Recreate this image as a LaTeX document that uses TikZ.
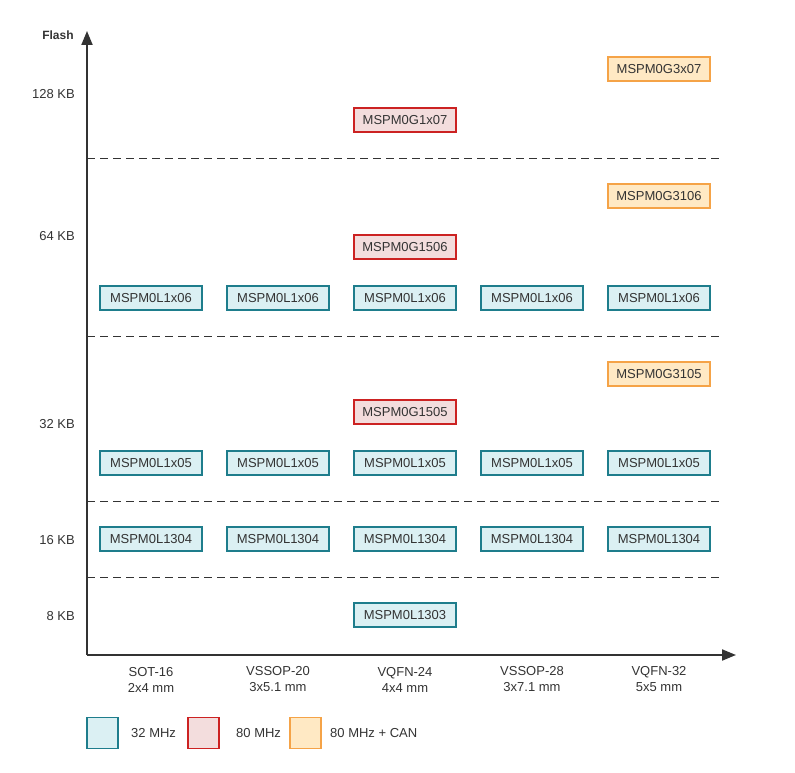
\documentclass[tikz,border=0pt]{standalone}
\usepackage{fontspec}
\setmainfont{Liberation Sans}
\usetikzlibrary{arrows.meta}
\definecolor{tfill}{HTML}{DBF0F3}
\definecolor{tdraw}{HTML}{1E7D8C}
\definecolor{rfill}{HTML}{F3DDDD}
\definecolor{rdraw}{HTML}{CC2222}
\definecolor{ofill}{HTML}{FFE9C4}
\definecolor{odraw}{HTML}{F5A347}
\definecolor{ink}{HTML}{333333}
\begin{document}
\begin{tikzpicture}[x=1pt,y=-1pt,
  chip/.style={draw, line width=1.2pt, minimum width=102pt, minimum height=24pt, inner sep=0pt, font=\fontsize{13}{15}\selectfont, text=ink},
  cteal/.style={chip, fill=tfill, draw=tdraw},
  cred/.style={chip, fill=rfill, draw=rdraw},
  corange/.style={chip, fill=ofill, draw=odraw},
  lbl/.style={font=\fontsize{13}{16}\selectfont, text=ink, inner sep=0pt},
  ylbl/.style={lbl, anchor=east},
  sep/.style={draw=ink, line width=1.1pt, dash pattern=on 8pt off 5pt},
  axis/.style={draw=ink, line width=2pt, -{Triangle[length=14pt,width=11pt]}},
  leg/.style={draw, line width=1.2pt, minimum width=31pt, minimum height=31pt, inner sep=0pt}]
\useasboundingbox (0,0) rectangle (795,773);
% axes
\coordinate (O) at (87,655);
\coordinate (ytop) at (87,31);
\coordinate (xend) at (736,655);
\draw[axis] (O) -- (ytop);
\draw[axis] (O) -- (xend);
% dashed separators
\foreach \y/\n in {158.5/a,336.5/b,501.5/c,577.5/d}{
  \coordinate (s\n1) at (87,\y);
  \coordinate (s\n2) at (722,\y);
  \draw[sep] (s\n1) -- (s\n2);
}
% y labels
\node[lbl, font=\bfseries\fontsize{12}{14}\selectfont] (flash) at (58,35) {Flash};
\node[ylbl] (k128) at (75,94) {128 KB};
\node[ylbl] (k64) at (75,236) {64 KB};
\node[ylbl] (k32) at (75,424) {32 KB};
\node[ylbl] (k16) at (75,540) {16 KB};
\node[ylbl] (k8) at (75,616) {8 KB};
% x labels
\foreach \x/\a/\b/\n in {151/SOT-16/2x4 mm/p1, 278/VSSOP-20/3x5.1 mm/p2, 405/VQFN-24/4x4 mm/p3, 532/VSSOP-28/3x7.1 mm/p4, 659/VQFN-32/5x5 mm/p5}{
  \node[lbl, align=center] (\n) at (\x,679.5) {\a\\\b};
}
% chips
\node[corange] (g3x07) at (659,69) {MSPM0G3x07};
\node[cred] (g1x07) at (405,120) {MSPM0G1x07};
\node[corange] (g3106) at (659,196) {MSPM0G3106};
\node[cred] (g1506) at (405,247) {MSPM0G1506};
\foreach \x/\n in {151/a,278/b,405/c,532/d,659/e}{
  \node[cteal] (l06\n) at (\x,298) {MSPM0L1x06};
  \node[cteal] (l05\n) at (\x,463) {MSPM0L1x05};
  \node[cteal] (l04\n) at (\x,539) {MSPM0L1304};
}
\node[corange] (g3105) at (659,374) {MSPM0G3105};
\node[cred] (g1505) at (405,412) {MSPM0G1505};
\node[cteal] (l1303) at (405,615) {MSPM0L1303};
% legend
\node[leg, fill=tfill, draw=tdraw] (lg1) at (102.5,733) {};
\node[lbl, anchor=west] (lt1) at (131,733) {32 MHz};
\node[leg, fill=rfill, draw=rdraw] (lg2) at (203.5,733) {};
\node[lbl, anchor=west] (lt2) at (236,733) {80 MHz};
\node[leg, fill=ofill, draw=odraw] (lg3) at (305.5,733) {};
\node[lbl, anchor=west] (lt3) at (330,733) {80 MHz + CAN};
\end{tikzpicture}
\end{document}
